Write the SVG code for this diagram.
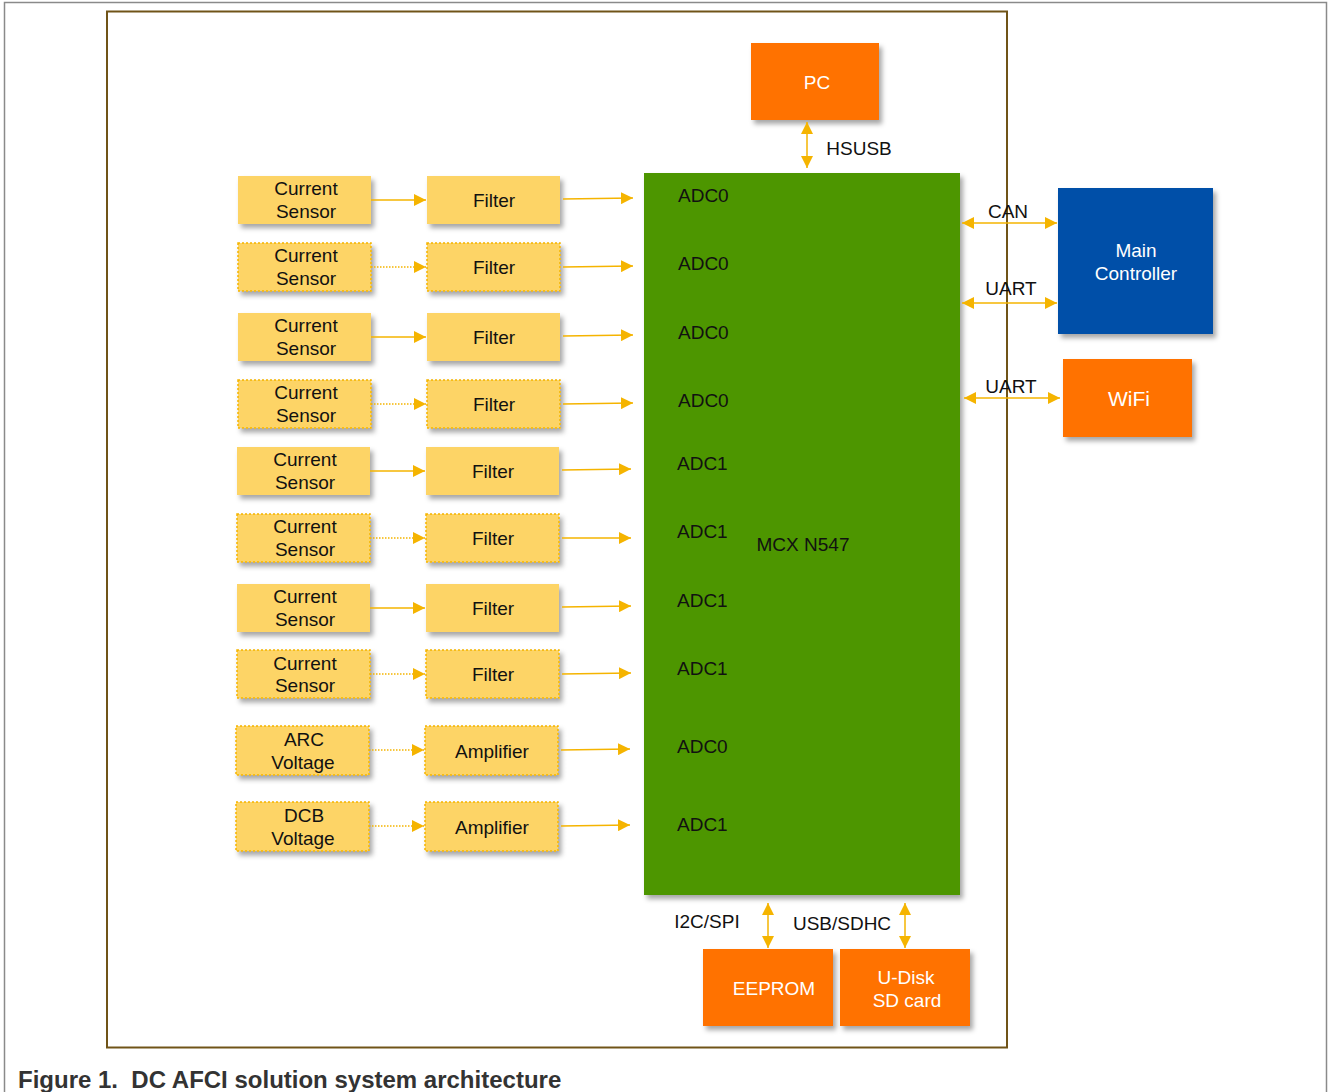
<svg xmlns="http://www.w3.org/2000/svg" width="1328" height="1092" viewBox="0 0 1328 1092">
<defs>
<style>
text{font-family:"Liberation Sans",Arial,sans-serif;font-size:19px;fill:#111;text-anchor:middle}
.w{fill:#fff}
.y{fill:#FDD466}
.yd{fill:#FDD466;stroke:#F5B400;stroke-width:1.5;stroke-dasharray:2 2}
.o{fill:#FF7200}
.c{stroke:#F5B400;stroke-width:1.5;fill:none}
.cd{stroke:#F5B400;stroke-width:1.5;fill:none;stroke-dasharray:1.5 1.5}
.l{text-anchor:start}
</style>
<filter id="sh" x="-10%" y="-10%" width="130%" height="140%">
<feDropShadow dx="3" dy="4" stdDeviation="2.5" flood-color="#000" flood-opacity="0.35"/>
</filter>
<marker id="ah2" viewBox="0 0 10 10" refX="10" refY="5" markerWidth="12" markerHeight="12" markerUnits="userSpaceOnUse" orient="auto-start-reverse">
<path d="M0,0 L10,5 L0,10 z" fill="#F5B400"/>
</marker>
</defs>
<rect width="1328" height="1092" fill="#fff"/>
<path d="M4.5,1092 V2.5 H1326.5 V1092" fill="none" stroke="#8a8a8a" stroke-width="1.5"/>
<rect x="107" y="11.5" width="900" height="1036" fill="none" stroke="#705418" stroke-width="2"/>

<g id="mcu"><rect x="644" y="173" width="316" height="722" fill="#4E9600" filter="url(#sh)"/>
<text x="803" y="551">MCX N547</text>
<text class="l" x="678" y="202">ADC0</text>
<text class="l" x="678" y="270">ADC0</text>
<text class="l" x="678" y="339">ADC0</text>
<text class="l" x="678" y="407">ADC0</text>
<text class="l" x="677" y="470">ADC1</text>
<text class="l" x="677" y="538">ADC1</text>
<text class="l" x="677" y="607">ADC1</text>
<text class="l" x="677" y="675">ADC1</text>
<text class="l" x="677" y="753">ADC0</text>
<text class="l" x="677" y="831">ADC1</text>
</g>

<g id="pc"><rect class="o" x="751" y="43" width="128" height="77" filter="url(#sh)"/><text class="w" x="817" y="89">PC</text></g>
<g id="main"><rect x="1058" y="188" width="155" height="146" fill="#0050A8" filter="url(#sh)"/><text class="w" x="1136" y="257">Main</text><text class="w" x="1136" y="280">Controller</text></g>
<g id="wifi"><rect class="o" x="1063" y="359" width="129" height="78" filter="url(#sh)"/><text class="w" x="1129" y="406" style="font-size:21px">WiFi</text></g>
<g id="eeprom"><rect class="o" x="703" y="949" width="130" height="77" filter="url(#sh)"/><text class="w" x="774" y="995">EEPROM</text></g>
<g id="udisk"><rect class="o" x="840" y="949" width="130" height="77" filter="url(#sh)"/><text class="w" x="906" y="984">U-Disk</text><text class="w" x="907" y="1007">SD card</text></g>

<g id="s1"><rect class="y" x="238" y="176" width="133" height="48" filter="url(#sh)"/><text x="306" y="195">Current</text><text x="306" y="218">Sensor</text></g>
<g id="f1"><rect class="y" x="427" y="176" width="133" height="48" filter="url(#sh)"/><text x="494" y="207">Filter</text></g>
<g id="s2"><rect class="yd" x="238" y="243" width="133" height="48" filter="url(#sh)"/><text x="306" y="262">Current</text><text x="306" y="285">Sensor</text></g>
<g id="f2"><rect class="yd" x="427" y="243" width="133" height="48" filter="url(#sh)"/><text x="494" y="274">Filter</text></g>
<g id="s3"><rect class="y" x="238" y="313" width="133" height="48" filter="url(#sh)"/><text x="306" y="332">Current</text><text x="306" y="355">Sensor</text></g>
<g id="f3"><rect class="y" x="427" y="313" width="133" height="48" filter="url(#sh)"/><text x="494" y="344">Filter</text></g>
<g id="s4"><rect class="yd" x="238" y="380" width="133" height="48" filter="url(#sh)"/><text x="306" y="399">Current</text><text x="306" y="422">Sensor</text></g>
<g id="f4"><rect class="yd" x="427" y="380" width="133" height="48" filter="url(#sh)"/><text x="494" y="411">Filter</text></g>
<g id="s5"><rect class="y" x="237" y="447" width="133" height="48" filter="url(#sh)"/><text x="305" y="466">Current</text><text x="305" y="489">Sensor</text></g>
<g id="f5"><rect class="y" x="426" y="447" width="133" height="48" filter="url(#sh)"/><text x="493" y="478">Filter</text></g>
<g id="s6"><rect class="yd" x="237" y="514" width="133" height="48" filter="url(#sh)"/><text x="305" y="533">Current</text><text x="305" y="556">Sensor</text></g>
<g id="f6"><rect class="yd" x="426" y="514" width="133" height="48" filter="url(#sh)"/><text x="493" y="545">Filter</text></g>
<g id="s7"><rect class="y" x="237" y="584" width="133" height="48" filter="url(#sh)"/><text x="305" y="603">Current</text><text x="305" y="626">Sensor</text></g>
<g id="f7"><rect class="y" x="426" y="584" width="133" height="48" filter="url(#sh)"/><text x="493" y="615">Filter</text></g>
<g id="s8"><rect class="yd" x="237" y="650" width="133" height="48" filter="url(#sh)"/><text x="305" y="670">Current</text><text x="305" y="692">Sensor</text></g>
<g id="f8"><rect class="yd" x="426" y="650" width="133" height="48" filter="url(#sh)"/><text x="493" y="681">Filter</text></g>
<g id="arc"><rect class="yd" x="236" y="726" width="133" height="49" filter="url(#sh)"/><text x="304" y="746">ARC</text><text x="303" y="769">Voltage</text></g>
<g id="amp1"><rect class="yd" x="425" y="726" width="133" height="49" filter="url(#sh)"/><text x="492" y="758">Amplifier</text></g>
<g id="dcb"><rect class="yd" x="236" y="802" width="133" height="49" filter="url(#sh)"/><text x="304" y="822">DCB</text><text x="303" y="845">Voltage</text></g>
<g id="amp2"><rect class="yd" x="425" y="802" width="133" height="49" filter="url(#sh)"/><text x="492" y="834">Amplifier</text></g>

<g id="connectors">
<line class="c" x1="371" y1="200" x2="426" y2="200" marker-end="url(#ah2)"/>
<line class="cd" x1="371" y1="267" x2="426" y2="267" marker-end="url(#ah2)"/>
<line class="c" x1="371" y1="337" x2="426" y2="337" marker-end="url(#ah2)"/>
<line class="cd" x1="371" y1="404" x2="426" y2="404" marker-end="url(#ah2)"/>
<line class="c" x1="370" y1="471" x2="425" y2="471" marker-end="url(#ah2)"/>
<line class="cd" x1="370" y1="538" x2="425" y2="538" marker-end="url(#ah2)"/>
<line class="c" x1="370" y1="608" x2="425" y2="608" marker-end="url(#ah2)"/>
<line class="cd" x1="370" y1="674" x2="425" y2="674" marker-end="url(#ah2)"/>
<line class="cd" x1="369" y1="750" x2="424" y2="750" marker-end="url(#ah2)"/>
<line class="cd" x1="369" y1="826" x2="424" y2="826" marker-end="url(#ah2)"/>
<line class="c" x1="563" y1="199" x2="633" y2="198" marker-end="url(#ah2)"/>
<line class="c" x1="563" y1="267" x2="633" y2="266" marker-end="url(#ah2)"/>
<line class="c" x1="563" y1="336" x2="633" y2="335" marker-end="url(#ah2)"/>
<line class="c" x1="563" y1="404" x2="633" y2="403" marker-end="url(#ah2)"/>
<line class="c" x1="562" y1="470" x2="631" y2="469" marker-end="url(#ah2)"/>
<line class="c" x1="562" y1="538" x2="631" y2="538" marker-end="url(#ah2)"/>
<line class="c" x1="562" y1="607" x2="631" y2="606" marker-end="url(#ah2)"/>
<line class="c" x1="562" y1="674" x2="631" y2="673" marker-end="url(#ah2)"/>
<line class="c" x1="561" y1="750" x2="630" y2="749" marker-end="url(#ah2)"/>
<line class="c" x1="561" y1="826" x2="630" y2="825" marker-end="url(#ah2)"/>
<line class="c" x1="807" y1="122" x2="807" y2="168" marker-start="url(#ah2)" marker-end="url(#ah2)"/>
<line class="c" x1="962" y1="223" x2="1057" y2="223" marker-start="url(#ah2)" marker-end="url(#ah2)"/>
<line class="c" x1="962" y1="303" x2="1057" y2="303" marker-start="url(#ah2)" marker-end="url(#ah2)"/>
<line class="c" x1="964" y1="398" x2="1060" y2="398" marker-start="url(#ah2)" marker-end="url(#ah2)"/>
<line class="c" x1="768" y1="903" x2="768" y2="948" marker-start="url(#ah2)" marker-end="url(#ah2)"/>
<line class="c" x1="905" y1="903" x2="905" y2="948" marker-start="url(#ah2)" marker-end="url(#ah2)"/>
<text x="859" y="155">HSUSB</text>
<text x="1008" y="218">CAN</text>
<text x="1011" y="295">UART</text>
<text x="1011" y="393">UART</text>
<text x="707" y="928">I2C/SPI</text>
<text x="842" y="930">USB/SDHC</text>
</g>
<text class="l" x="18" y="1088" xml:space="preserve" style="font-size:24px;font-weight:bold;fill:#333">Figure 1.  DC AFCI solution system architecture</text>
</svg>
